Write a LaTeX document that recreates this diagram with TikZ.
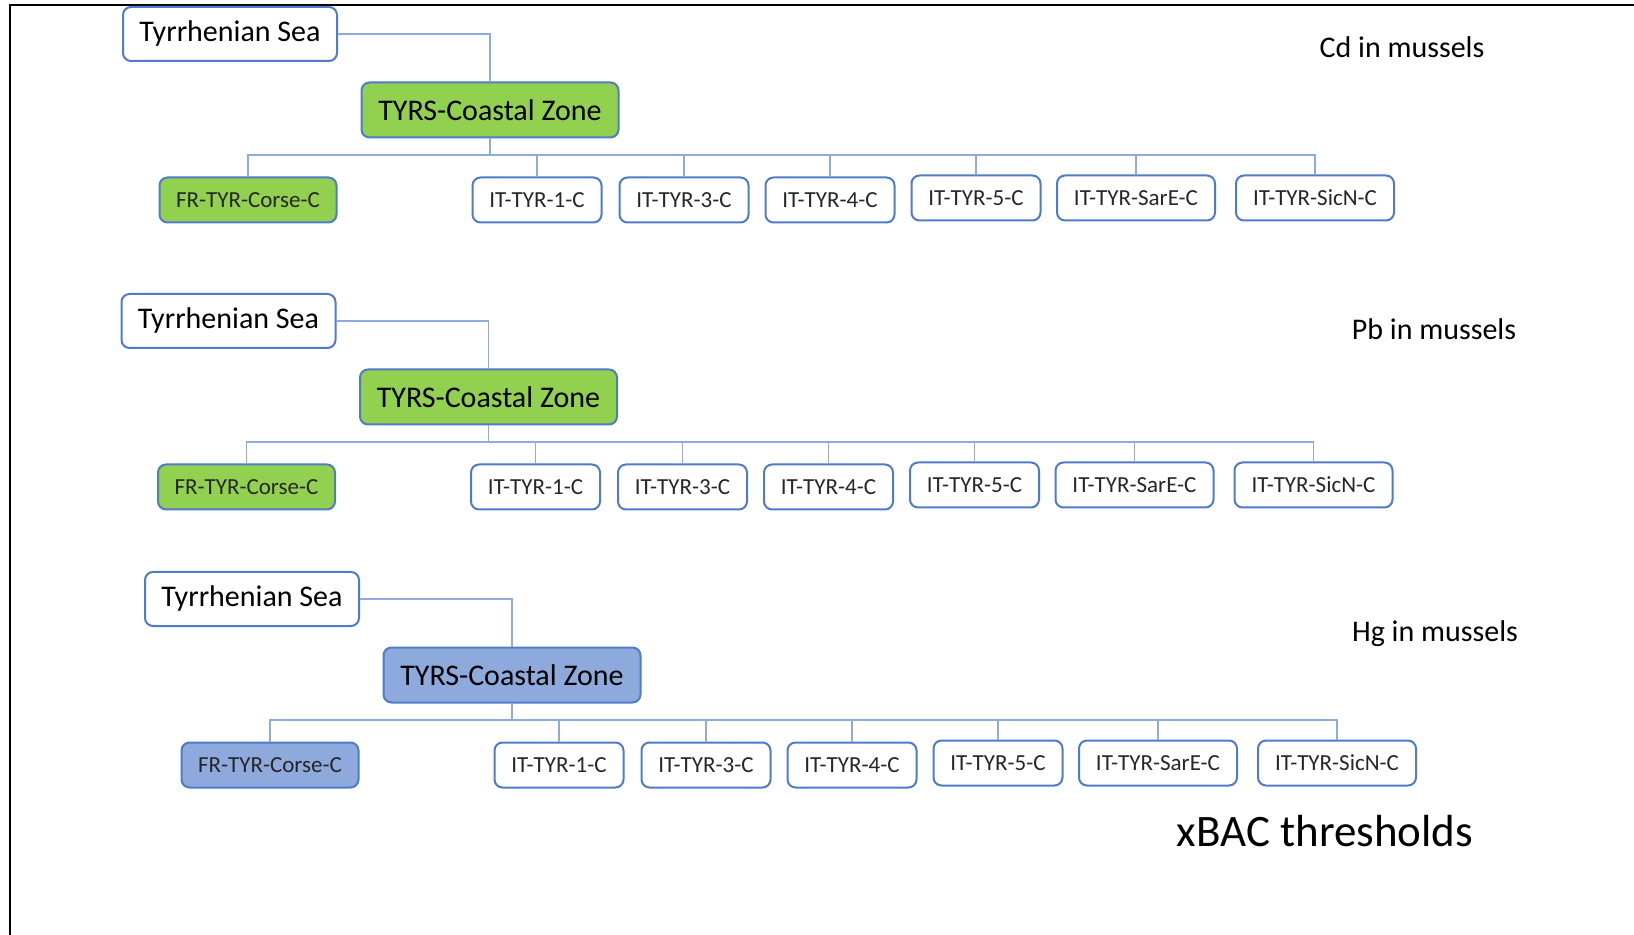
\documentclass[tikz,border=0pt]{standalone}
\usepackage{fontspec}
\setmainfont{Carlito}
\usetikzlibrary{positioning}

\definecolor{boxline}{HTML}{4F7BC9}
\definecolor{linkline}{HTML}{8FAADC}
\definecolor{zonegreen}{HTML}{92D050}
\definecolor{zoneblue}{HTML}{8EA9DB}

\tikzset{
  seabox/.style={draw=boxline, line width=1pt, rounded corners=4pt, fill=white,
    minimum width=107pt, minimum height=27pt, font=\fontsize{15}{15}\selectfont},
  zonebox/.style={seabox, minimum width=128.5pt, minimum height=27.5pt},
  leafbox/.style={draw=boxline, line width=1pt, rounded corners=4pt, fill=white,
    minimum width=64.5pt, minimum height=22.5pt, inner sep=0pt,
    font=\fontsize{11.5}{11.5}\selectfont, text=black!85},
  link/.style={draw=linkline, line width=0.6pt},
  metal/.style={font=\fontsize{15}{15}\selectfont}
}

% #1 prefix, #2/#3 shift, #4 colour of zone and corse box
\newcommand{\seatree}[4]{%
  \begin{scope}[shift={(#2,#3)}]
    \node[seabox] (#1sea) at (230,34) {Tyrrhenian Sea};
    \node[zonebox, fill=#4] (#1zone) at (490,110) {TYRS-Coastal Zone};
    \node[leafbox, fill=#4, minimum width=88.5pt] (#1corse) at (248,200) {FR-TYR-Corse-C};
    \node[leafbox] (#1tyra) at (537,200) {IT-TYR-1-C};
    \node[leafbox] (#1tyrb) at (684,200) {IT-TYR-3-C};
    \node[leafbox] (#1tyrc) at (830,200) {IT-TYR-4-C};
    \node[leafbox] (#1tyrd) at (976,198) {IT-TYR-5-C};
    \node[leafbox, minimum width=79pt] (#1sare) at (1136,198) {IT-TYR-SarE-C};
    \node[leafbox, minimum width=79pt] (#1sicn) at (1315,198) {IT-TYR-SicN-C};
    \draw[link] (#1sea.east) -| (#1zone.north);
    \foreach \leaf in {corse,tyra,tyrb,tyrc,tyrd,sare,sicn}
      \draw[link] (#1zone.south) -- ++(0,16.5) -| (#1\leaf.north);
  \end{scope}%
}

\begin{document}
\begin{tikzpicture}[x=0.5pt,y=-0.5pt]
  \useasboundingbox (0,0) rectangle (1634,935);
  \draw[line width=1.3pt] (10,935) -- (10,5) -- (1634,5);

  \seatree{cd}{0}{0}{zonegreen}
  \seatree{pb}{-1.5}{287}{zonegreen}
  \seatree{hg}{22}{565}{zoneblue}

  \node[metal] (cdtitle) at (1402,47) {Cd in mussels};
  \node[metal] (pbtitle) at (1434,329) {Pb in mussels};
  \node[metal] (hgtitle) at (1435,634) {Hg in mussels};
  \node[font=\fontsize{22.5}{22.5}\selectfont] (xbac) at (1325,831) {xBAC thresholds};
\end{tikzpicture}
\end{document}
